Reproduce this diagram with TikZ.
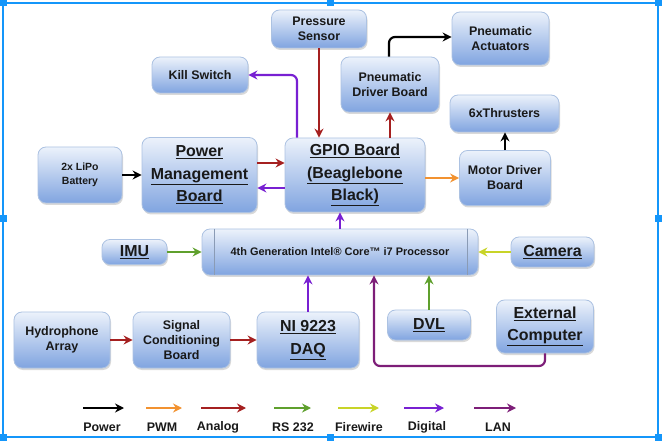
\documentclass[tikz,border=0pt]{standalone}
\usepackage{fontspec}
\setmainfont{Liberation Sans}
\usetikzlibrary{arrows.meta,shadows}

\definecolor{boxtop}{RGB}{236,242,251}
\definecolor{boxmid}{RGB}{196,215,243}
\definecolor{boxbot}{RGB}{128,164,224}
\definecolor{boxline}{RGB}{172,194,226}
\definecolor{txt}{RGB}{25,25,25}
\definecolor{pwmcol}{RGB}{242,146,48}
\definecolor{anacol}{RGB}{165,32,32}
\definecolor{rscol}{RGB}{95,160,45}
\definecolor{fwcol}{RGB}{200,212,40}
\definecolor{digcol}{RGB}{120,32,210}
\definecolor{lancol}{RGB}{125,30,120}
\definecolor{selblue}{RGB}{20,150,250}

\begin{document}
\begin{tikzpicture}[x=1bp, y=-1bp,
    blk/.style={draw=boxline, line width=0.8bp, rounded corners=8bp,
        top color=boxtop, middle color=boxmid, bottom color=boxbot,
        drop shadow={shadow xshift=1bp, shadow yshift=-2bp, opacity=0.3},
        align=center, inner sep=0pt, text=txt},
    big/.style={font=\bfseries\fontsize{16}{22.5}\selectfont},
    mid/.style={font=\bfseries\fontsize{12.5}{15}\selectfont},
    sml/.style={font=\bfseries\fontsize{10.5}{13.5}\selectfont},
    link/.style={line width=2.2bp, -{Stealth[length=9bp,width=9bp]}},
    pwr/.style={link, draw=black},
    pwm/.style={link, draw=pwmcol},
    ana/.style={link, draw=anacol},
    rs/.style={link, draw=rscol},
    fw/.style={link, draw=fwcol},
    dig/.style={link, draw=digcol},
    lan/.style={link, draw=lancol}]
    \useasboundingbox (0,0) rectangle (662,441);

    % Selection frame
    \draw[selblue, line width=1.5bp] (3,3) rectangle (658,437);
    \foreach \hx/\hy in {3/3, 330/3, 658/3, 3/219, 658/219, 3/437, 330/437, 658/437}
        \fill[selblue] (\hx-3.5,\hy-3.5) rectangle (\hx+3.5,\hy+3.5);

    % Top row
    \node[blk, mid, minimum width=95bp, minimum height=38bp] (pres) at (319,29) {Pressure\\Sensor};
    \node[blk, mid, minimum width=96bp, minimum height=36bp] (kill) at (200,75) {Kill Switch};
    \node[blk, mid, minimum width=98bp, minimum height=55bp] (pdb) at (390,84.5) {Pneumatic\\Driver Board};
    \node[blk, mid, minimum width=97bp, minimum height=53bp] (pact) at (500.5,38.5) {Pneumatic\\Actuators};
    \node[blk, mid, minimum width=109bp, minimum height=37bp] (thr) at (504.5,113.5) {6xThrusters};

    % Power and GPIO row
    \node[blk, sml, minimum width=84bp, minimum height=56bp] (lipo) at (80,175) {2x LiPo\\Battery};
    \node[blk, big, minimum width=115bp, minimum height=75bp] (pmb) at (199.5,175) {\underline{Power}\\\underline{Management}\\\underline{Board}};
    \node[blk, big, minimum width=140bp, minimum height=74bp] (gpio) at (355,175) {\underline{GPIO Board}\\\underline{(Beaglebone}\\\underline{Black)}};
    \node[blk, mid, minimum width=91bp, minimum height=55bp] (mdb) at (505,178) {Motor Driver\\Board};

    % Processor row
    \node[blk, sml, font=\bfseries\fontsize{11}{13.5}\selectfont, minimum width=276bp, minimum height=46bp] (cpu) at (340,252) {4th Generation Intel® Core™ i7 Processor};
    \draw[boxline!80!black, line width=0.8bp] ([xshift=13bp]cpu.north west) -- ([xshift=13bp]cpu.south west);
    \draw[boxline!80!black, line width=0.8bp] ([xshift=-11bp]cpu.north east) -- ([xshift=-11bp]cpu.south east);
    \node[blk, big, minimum width=65bp, minimum height=25bp] (imu) at (134.5,252) {\underline{IMU}};
    \node[blk, big, minimum width=83bp, minimum height=30bp] (cam) at (552.5,252) {\underline{Camera}};

    % Sensor row
    \node[blk, mid, minimum width=96bp, minimum height=56bp] (hyd) at (62,340) {Hydrophone\\Array};
    \node[blk, mid, minimum width=97bp, minimum height=56bp] (sig) at (181.5,340) {Signal\\Conditioning\\Board};
    \node[blk, big, minimum width=102bp, minimum height=56bp] (daq) at (308,340) {\underline{NI 9223}\\\underline{DAQ}};
    \node[blk, big, minimum width=83bp, minimum height=30bp] (dvl) at (429,325) {\underline{DVL}};
    \node[blk, big, minimum width=97bp, minimum height=53bp] (ext) at (545,326.5) {\underline{External}\\\underline{Computer}};

    % Bends
    \coordinate (killbend) at (297,75);
    \coordinate (actbend) at (389,37);
    \coordinate (lanbend) at (374,366);

    % Connections
    \draw[pwr] (lipo) -- (pmb);
    \draw[ana] ([yshift=12bp]pmb.east) -- ([yshift=12bp]pmb.east -| gpio.west);
    \draw[dig] ([yshift=-13bp]gpio.west) -- ([yshift=-13bp]gpio.west -| pmb.east);
    \draw[dig, rounded corners=6bp] (gpio.north -| killbend) -- (killbend) -- (kill.east);
    \draw[ana] (pres.south) -- (pres.south |- gpio.north);
    \draw[ana] (gpio.north -| pdb.south) -- (pdb.south);
    \draw[pwr, rounded corners=6bp] (pdb.north -| actbend) -- (actbend) -- (actbend -| pact.west);
    \draw[pwm] (gpio.east |- mdb.west) -- (mdb.west);
    \draw[pwr] (mdb.north) -- (mdb.north |- thr.south);
    \draw[dig] (cpu.north) -- (cpu.north |- gpio.south);
    \draw[rs] (imu.east) -- (imu.east -| cpu.west);
    \draw[fw] (cam.west) -- (cam.west -| cpu.east);
    \draw[rs] (dvl.north) -- (dvl.north |- cpu.south);
    \draw[dig] (daq.north) -- (daq.north |- cpu.south);
    \draw[lan, rounded corners=6bp] (ext.south) |- (lanbend) -- (lanbend |- cpu.south);
    \draw[ana] (hyd) -- (sig);
    \draw[ana] (sig) -- (daq);

    % Legend
    \foreach \xa/\xb/\xt/\st/\txt in {83/124/102/pwr/Power, 146/182/162/pwm/PWM,
            201/246/218/ana/Analog, 274/311/293/rs/RS 232, 338/379/359/fw/Firewire,
            404/444/427/dig/Digital, 474/516/498/lan/LAN} {
        \coordinate (la\st) at (\xa,408);
        \coordinate (lb\st) at (\xb,408);
        \draw[\st] (la\st) -- (lb\st);
        \node[mid, text=txt] (lt\st) at (\xt,427) {\txt};
    }
\end{tikzpicture}
\end{document}
